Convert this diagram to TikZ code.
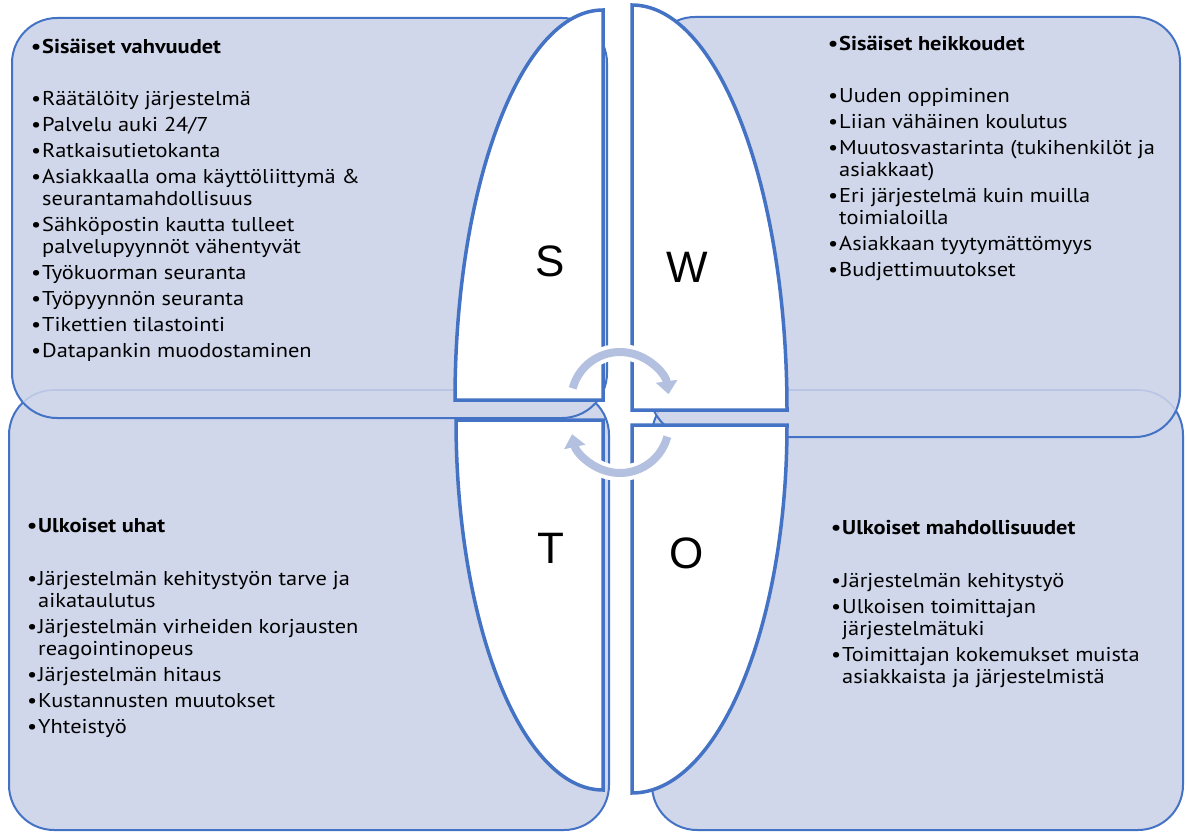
\documentclass[tikz,border=0pt]{standalone}
\usepackage{fontspec}
\setmainfont[FakeStretch=1.12]{PT Sans}
\newfontfamily\letterfont{Liberation Sans}
\usetikzlibrary{arrows.meta}
\definecolor{edge}{HTML}{4472C4}
\definecolor{panel}{HTML}{D0D7EA}
\definecolor{ghost}{HTML}{B9C5E4}
\definecolor{cyc}{HTML}{B3C0E0}
\newcommand\bul{\makebox[11pt][l]{\textbullet}}
\newcommand\ind{\hspace*{11pt}}
\begin{document}
\begin{tikzpicture}[x=1pt,y=-1pt,
  panelbox/.style={draw=edge, fill=panel, line width=2pt, rounded corners=45pt},
  ghostline/.style={draw=ghost, line width=1.6pt, rounded corners=45pt},
  quarter/.style={draw=edge, fill=white, line width=3.5pt},
  letter/.style={font=\letterfont\fontsize{44}{48}\selectfont, inner sep=0pt},
  cycarrow/.style={draw=cyc, line width=8pt, -{Triangle[width=21pt,length=13pt]}},
  cycgap/.style={draw=white, line width=16pt},
  list/.style={anchor=north west, align=left, inner sep=0pt,
    font=\fontsize{20}{22}\selectfont}]
\useasboundingbox (0,0) rectangle (1187,832);
\fill[white] (0,0) rectangle (1187,832);

% lower panels
\draw[panelbox] (9,390) rectangle (609,830);
\draw[panelbox] (652,390) rectangle (1183,830);
% upper panels
\draw[panelbox] (12,18) rectangle (607,418);
\draw[panelbox] (650,17) rectangle (1180,437);
% top edges of the lower panels, seen through the upper ones
\begin{scope}
  \clip[rounded corners=44pt] (13,19) rectangle (606,417);
  \draw[ghostline] (9,390) rectangle (609,830);
\end{scope}
\begin{scope}
  \clip[rounded corners=44pt] (651,18) rectangle (1179,436);
  \draw[ghostline] (652,390) rectangle (1183,830);
\end{scope}

% quarter-ellipse letter panels
\draw[quarter] (603,400) -- (455,400) arc[start angle=180, end angle=270, x radius=148, y radius=390] -- cycle;
\draw[quarter] (632,410) -- (632,5) arc[start angle=270, end angle=360, x radius=155, y radius=405] -- cycle;
\draw[quarter] (603,420) -- (456,420) arc[start angle=180, end angle=90, x radius=147, y radius=370] -- cycle;
\draw[quarter] (632,425) -- (787,425) arc[start angle=0, end angle=90, x radius=155, y radius=368] -- cycle;

% cycle arrows in the middle
\draw[cycgap] ([shift={(195:49)}]620,401) arc[start angle=195, end angle=345, radius=49];
\draw[cycarrow] ([shift={(195:49)}]620,401) arc[start angle=195, end angle=352, radius=49];
\draw[cycgap] ([shift={(15:49)}]620,424) arc[start angle=15, end angle=160, radius=49];
\draw[cycarrow] ([shift={(15:49)}]620,424) arc[start angle=15, end angle=168, radius=49];

% letters
\node[letter] (s) at (550,261) {S};
\node[letter] (w) at (687,267) {W};
\node[letter] (t) at (551,548) {T};
\node[letter] (o) at (687,553) {O};

% lists
\node[list] (strengths) at (31,37.6) {\strut\textbf{\bul Sisäiset vahvuudet}\\[30pt]
\bul Räätälöity järjestelmä\\[4pt]
\bul Palvelu auki 24/7\\[4pt]
\bul Ratkaisutietokanta\\[4pt]
\bul Asiakkaalla oma käyttöliittymä \&\\
\ind seurantamahdollisuus\\[4pt]
\bul Sähköpostin kautta tulleet\\
\ind palvelupyynnöt vähentyvät\\[4pt]
\bul Työkuorman seuranta\\[4pt]
\bul Työpyynnön seuranta\\[4pt]
\bul Tikettien tilastointi\\[4pt]
\bul Datapankin muodostaminen};

\node[list] (weaknesses) at (828,34.6) {\strut\textbf{\bul Sisäiset heikkoudet}\\[30pt]
\bul Uuden oppiminen\\[4pt]
\bul Liian vähäinen koulutus\\[4pt]
\bul Muutosvastarinta (tukihenkilöt ja\\
\ind asiakkaat)\\[4pt]
\bul Eri järjestelmä kuin muilla\\
\ind toimialoilla\\[4pt]
\bul Asiakkaan tyytymättömyys\\[4pt]
\bul Budjettimuutokset};

\node[list] (threats) at (27,516.6) {\strut\textbf{\bul Ulkoiset uhat}\\[31pt]
\bul Järjestelmän kehitystyön tarve ja\\
\ind aikataulutus\\[4pt]
\bul Järjestelmän virheiden korjausten\\
\ind reagointinopeus\\[4pt]
\bul Järjestelmän hitaus\\[4pt]
\bul Kustannusten muutokset\\[4pt]
\bul Yhteistyö};

\node[list] (opportunities) at (831,518.6) {\strut\textbf{\bul Ulkoiset mahdollisuudet}\\[31pt]
\bul Järjestelmän kehitystyö\\[4pt]
\bul Ulkoisen toimittajan\\
\ind järjestelmätuki\\[4pt]
\bul Toimittajan kokemukset muista\\
\ind asiakkaista ja järjestelmistä};
\end{tikzpicture}
\end{document}
